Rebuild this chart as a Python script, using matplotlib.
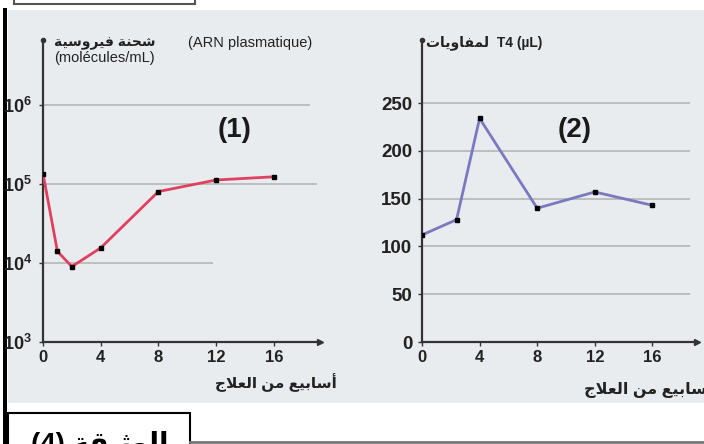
import matplotlib.pyplot as plt
from matplotlib.patches import Rectangle

# data
weeks_rna = [0, 1, 2, 4, 8, 12, 16]
rna_load = [1.35e5, 1.4e4, 9.0e3, 1.55e4, 8.0e4, 1.12e5, 1.23e5]

weeks_t4 = [0, 2.4, 4, 8, 12, 16]
t4_count = [112, 128, 234, 140, 157, 143]

x_ticks = [0, 4, 8, 12, 16]
rna_ticks = [1e3, 1e4, 1e5, 1e6]
rna_tick_labels = [r"$\mathregular{10^{3}}$", r"$\mathregular{10^{4}}$",
                   r"$\mathregular{10^{5}}$", r"$\mathregular{10^{6}}$"]
t4_ticks = [0, 50, 100, 150, 200, 250]

# presentation forms: (isolated, final[, initial, medial])
FORMS = {
    "ا": ("\uFE8D", "\uFE8E"), "أ": ("\uFE83", "\uFE84"),
    "ة": ("\uFE93", "\uFE94"), "ر": ("\uFEAD", "\uFEAE"),
    "و": ("\uFEED", "\uFEEE"),
    "ب": ("\uFE8F", "\uFE90", "\uFE91", "\uFE92"),
    "ت": ("\uFE95", "\uFE96", "\uFE97", "\uFE98"),
    "ث": ("\uFE99", "\uFE9A", "\uFE9B", "\uFE9C"),
    "ج": ("\uFE9D", "\uFE9E", "\uFE9F", "\uFEA0"),
    "ح": ("\uFEA1", "\uFEA2", "\uFEA3", "\uFEA4"),
    "س": ("\uFEB1", "\uFEB2", "\uFEB3", "\uFEB4"),
    "ش": ("\uFEB5", "\uFEB6", "\uFEB7", "\uFEB8"),
    "ع": ("\uFEC9", "\uFECA", "\uFECB", "\uFECC"),
    "ف": ("\uFED1", "\uFED2", "\uFED3", "\uFED4"),
    "ق": ("\uFED5", "\uFED6", "\uFED7", "\uFED8"),
    "ل": ("\uFEDD", "\uFEDE", "\uFEDF", "\uFEE0"),
    "م": ("\uFEE1", "\uFEE2", "\uFEE3", "\uFEE4"),
    "ن": ("\uFEE5", "\uFEE6", "\uFEE7", "\uFEE8"),
    "ي": ("\uFEF1", "\uFEF2", "\uFEF3", "\uFEF4"),
}
LAM_ALEF = {"ا": ("\uFEFB", "\uFEFC"), "أ": ("\uFEF7", "\uFEF8")}


def shape(text):
    # join arabic letters and put them in visual (left to right) order
    out = []
    i = 0
    n = len(text)
    while i < n:
        c = text[i]
        if c not in FORMS:
            out.append(c)
            i += 1
            continue
        prev = text[i - 1] if i > 0 else ""
        jp = prev in FORMS and len(FORMS[prev]) == 4
        if c == "ل" and i + 1 < n and text[i + 1] in LAM_ALEF:
            lig = LAM_ALEF[text[i + 1]]
            out.append(lig[1] if jp else lig[0])
            i += 2
            continue
        f = FORMS[c]
        jn = len(f) == 4 and i + 1 < n and text[i + 1] in FORMS
        if jp and jn:
            g = f[3]
        elif jp:
            g = f[1]
        elif jn:
            g = f[2]
        else:
            g = f[0]
        out.append(g)
        i += 1
    return "".join(reversed(out))


plt.rcParams["font.family"] = ["Liberation Sans", "DejaVu Sans"]

W, H = 704, 444
fig = plt.figure(figsize=(W / 100, H / 100), dpi=100)


def fx(px):
    return px / W


def fy(py):
    return 1 - py / H


# scanned page background (kept below the axes so tick labels sit on top)
fig.add_artist(Rectangle((fx(8), fy(403)), fx(696), 393 / H,
                         facecolor="#e9ecef", edgecolor="none", zorder=-2))
fig.add_artist(Rectangle((fx(3), 0), fx(4), fy(8), facecolor="black",
                         edgecolor="none", zorder=-1))
fig.add_artist(Rectangle((fx(14), fy(4)), fx(181), 12 / H, facecolor="white",
                         edgecolor="#555555", lw=1.5, zorder=5))
fig.add_artist(Rectangle((fx(8), -0.05), fx(182), fy(413) + 0.05,
                         facecolor="white", edgecolor="black", lw=1.5, zorder=6))
fig.add_artist(plt.Line2D([fx(190), 1], [fy(442), fy(442)], color="#777777",
                          lw=2, zorder=6))
fig.text(fx(100), fy(431), "(4) " + shape("الوثيقة"), ha="center", va="top",
         fontsize=20, fontweight="bold", zorder=7)

axis_color = "#333333"


def style_axis(ax, xmax):
    for s in ["top", "right"]:
        ax.spines[s].set_visible(False)
    for s in ["left", "bottom"]:
        ax.spines[s].set_color(axis_color)
        ax.spines[s].set_linewidth(1.6)
    ax.patch.set_visible(False)
    ax.tick_params(length=3, width=1, color=axis_color, labelsize=12,
                   pad=3, labelcolor="#222222")
    ax.set_xticks(x_ticks)
    ax.set_xticklabels([str(t) for t in x_ticks], fontweight="bold")
    ax.set_xlim(0, xmax)
    ax.plot([1], [0], ">", color=axis_color, ms=5,
            transform=ax.transAxes, clip_on=False)
    ax.plot([0], [1], "o", color=axis_color, ms=3,
            transform=ax.transAxes, clip_on=False)


# panel (1): viral load
ax1 = fig.add_axes([fx(43), fy(342), fx(277), 302 / H])
ax1.set_yscale("log")
ax1.set_ylim(1e3, 10 ** 6.82)
style_axis(ax1, 19.2)
ax1.set_yticks(rna_ticks)
ax1.set_yticklabels(rna_tick_labels, fontweight="bold")
ax1.minorticks_off()
ax1.tick_params(axis="y", labelsize=13, pad=5)
ax1.hlines([1e6, 1e5, 1e4], 0, [18.5, 19.0, 11.8], color="#b5b5b5", lw=1.2,
           zorder=1)
ax1.plot(weeks_rna, rna_load, color="#e0405f", lw=2, zorder=3)
ax1.plot(weeks_rna, rna_load, "s", color="black", ms=3.5, zorder=4)
fig.text(fx(235), fy(130), "(1)", ha="center", va="center", fontsize=20,
         fontweight="bold", color="#1a1a1a")
fig.text(fx(54), fy(43), shape("شحنة فيروسية"), ha="left", va="center",
         fontsize=10, fontweight="bold", color="#222222")
fig.text(fx(188), fy(43), "(ARN plasmatique)", ha="left", va="center",
         fontsize=10.5, color="#222222")
fig.text(fx(54), fy(58), "(molécules/mL)", ha="left", va="center",
         fontsize=10.5, color="#222222")
fig.text(fx(337), fy(383), shape("أسابيع من العلاج"), ha="right",
         va="center", fontsize=11, fontweight="bold", color="#222222")

# panel (2): T4 lymphocytes
ax2 = fig.add_axes([fx(422), fy(342), fx(275), 302 / H])
ax2.set_ylim(0, 316)
style_axis(ax2, 19.1)
ax2.set_yticks(t4_ticks)
ax2.set_yticklabels([str(t) for t in t4_ticks], fontweight="bold")
ax2.tick_params(axis="y", labelsize=13.5, pad=4)
ax2.hlines(t4_ticks[1:], 0, 18.6, color="#b5b5b5", lw=1.2, zorder=1)
ax2.plot(weeks_t4, t4_count, color="#7b78c0", lw=2, zorder=3)
ax2.plot(weeks_t4, t4_count, "s", color="black", ms=3.5, zorder=4)
fig.text(fx(575), fy(130), "(2)", ha="center", va="center", fontsize=20,
         fontweight="bold", color="#1a1a1a")
fig.text(fx(426), fy(43), shape("لمفاويات") + "  T4 (µL)", ha="left",
         va="center", fontsize=10, fontweight="bold", color="#222222")
fig.text(fx(712), fy(388), shape("أسابيع من العلاج"), ha="right",
         va="center", fontsize=11.5, fontweight="bold", color="#222222")

fig.savefig("out.png", dpi=100)
